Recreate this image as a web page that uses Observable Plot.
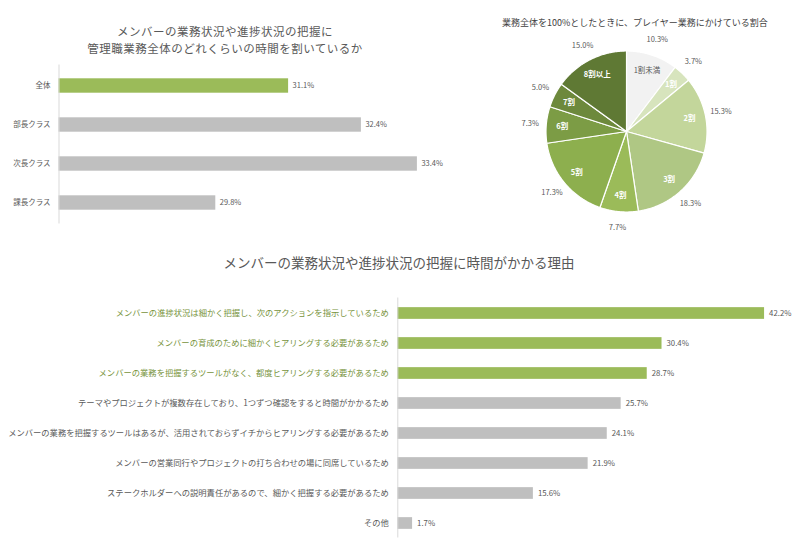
<!DOCTYPE html>
<html><head><meta charset="utf-8">
<script src="https://cdn.jsdelivr.net/npm/d3@7"></script>
<script src="https://cdn.jsdelivr.net/npm/@observablehq/plot@0.6"></script>
<style>
body{margin:0;background:#fff;font-family:"Noto Sans CJK JP","Noto Sans",sans-serif;}
#root{position:relative;width:800px;height:545px;overflow:hidden;background:#fff;}
.abs{position:absolute;}
.t{color:#595959;white-space:nowrap;text-align:center;}
.abs svg{display:block;max-width:none;overflow:visible;background:transparent;}
</style></head><body><div id="root"></div>
<script>
// ---------- data ----------
const roleLabels = ["全体", "部長クラス", "次長クラス", "課長クラス"];
const roleValues = [31.1, 32.4, 33.4, 29.8];
const roleAxisMin = 27;
const roleAxisMax = 34.5;

const shareLabels = ["1割未満", "1割", "2割", "3割", "4割", "5割", "6割", "7割", "8割以上"];
const shareValues = [10.3, 3.7, 15.3, 18.3, 7.7, 17.3, 7.3, 5.0, 15.0];

const reasonLabels = [
  "メンバーの進捗状況は細かく把握し、次のアクションを指示しているため",
  "メンバーの育成のために細かくヒアリングする必要があるため",
  "メンバーの業務を把握するツールがなく、都度ヒアリングする必要があるため",
  "テーマやプロジェクトが複数存在しており、1つずつ確認をすると時間がかかるため",
  "メンバーの業務を把握するツールはあるが、活用されておらずイチからヒアリングする必要があるため",
  "メンバーの営業同行やプロジェクトの打ち合わせの場に同席しているため",
  "ステークホルダーへの説明責任があるので、細かく把握する必要があるため",
  "その他"
];
const reasonValues = [42.2, 30.4, 28.7, 25.7, 24.1, 21.9, 15.6, 1.7];
const reasonEmphasis = [true, true, true, false, false, false, false, false];
const reasonAxisMax = 45;

// ---------- styles ----------
const FONT = '"Noto Sans CJK JP", "Noto Sans", sans-serif';
const GREEN = "#9BBB59";
const GRAY = "#BFBFBF";
const TEXT = "#595959";
const TEXT_GREEN = "#77933C";
const AXIS = "#D9D9D9";
const pieColors = ["#F2F2F2", "#D7E4BD", "#C3D69B", "#AFC784", "#9BBB59", "#8DAF4E", "#7C9C45", "#6D893C", "#5F7934"];

const root = document.getElementById("root");
function place(el, left, top) {
  const w = document.createElement("div");
  w.className = "abs";
  w.style.left = left + "px";
  w.style.top = top + "px";
  w.appendChild(el);
  root.appendChild(w);
  return w;
}
function title(html, left, top, width, size, lh, color, ls) {
  const d = document.createElement("div");
  d.className = "abs t";
  d.style.left = left + "px"; d.style.top = top + "px"; d.style.width = width + "px";
  d.style.fontSize = size + "px"; d.style.lineHeight = lh + "px";
  if (color) d.style.color = color;
  if (ls) d.style.letterSpacing = ls + "px";
  d.innerHTML = html;
  root.appendChild(d);
}

// ---------- chart 1 ----------
const roleData = roleLabels.map((l, i) => ({label: l, value: roleValues[i], overall: i === 0}));
const c1 = Plot.plot({
  width: 480, height: 170,
  marginLeft: 58.5, marginRight: 1.5, marginTop: 4.5, marginBottom: 6.5,
  x: {domain: [roleAxisMin, roleAxisMax], axis: null},
  y: {domain: roleLabels, axis: null, padding: 0},
  style: {fontFamily: FONT, background: "transparent", overflow: "visible"},
  marks: [
    Plot.barX(roleData.filter(d => d.overall), {x1: roleAxisMin, x2: "value", y: "label", fill: GREEN, insetTop: 12.3, insetBottom: 12.3}),
    Plot.barX(roleData.filter(d => !d.overall), {x1: roleAxisMin, x2: "value", y: "label", fill: GRAY, insetTop: 12.3, insetBottom: 12.3}),
    Plot.ruleX([roleAxisMin], {stroke: AXIS, strokeWidth: 1}),
    Plot.text(roleData, {x: "value", y: "label", text: d => d.value.toFixed(1) + "%", textAnchor: "start", dx: 4, fontSize: 7.5, fill: TEXT}),
    Plot.text(roleData, {y: "label", text: "label", frameAnchor: "left", textAnchor: "end", dx: -8.5, fontSize: 7.5, fill: TEXT})
  ]
});
place(c1, 0, 60);
title("メンバーの業務状況や進捗状況の把握に", 25, 25, 400, 11.5, 13, null, 0.5);
title("管理職業務全体のどれくらいの時間を割いているか", 25, 42, 400, 11.5, 13, null, 0.5);

// ---------- pie ----------
const R = 80.5, HALF = 106;
const arcs = d3.pie().sort(null).value(d => d)(shareValues);
const slicePts = [];
const pieLabels = [];
arcs.forEach((a, i) => {
  const k = shareLabels[i];
  slicePts.push({k, x: 0, y: 0});
  const n = Math.max(2, Math.ceil((a.endAngle - a.startAngle) / 0.01));
  for (let j = 0; j <= n; j++) {
    const t = a.startAngle + (a.endAngle - a.startAngle) * j / n;
    slicePts.push({k, x: R * Math.sin(t), y: R * Math.cos(t)});
  }
  const m = (a.startAngle + a.endAngle) / 2;
  pieLabels.push({k, v: shareValues[i], i,
    xi: 0.8 * R * Math.sin(m), yi: 0.8 * R * Math.cos(m),
    xo: 1.2 * R * Math.sin(m), yo: 1.2 * R * Math.cos(m)});
});
const c2 = Plot.plot({
  width: 2 * HALF, height: 2 * HALF,
  margin: 0,
  x: {domain: [-HALF, HALF], axis: null},
  y: {domain: [-HALF, HALF], axis: null},
  color: {domain: shareLabels, range: pieColors},
  style: {fontFamily: FONT, background: "transparent", overflow: "visible"},
  marks: [
    Plot.line(slicePts, {x: "x", y: "y", z: "k", fill: "k", stroke: "white", strokeWidth: 1.2, curve: "linear-closed"}),
    Plot.text(pieLabels.filter(d => d.i === 0), {x: "xi", y: "yi", text: "k", fill: TEXT, fontSize: 7.5}),
    Plot.text(pieLabels.filter(d => d.i !== 0), {x: "xi", y: "yi", text: "k", fill: "white", fontSize: 7.5, fontWeight: "bold"}),
    Plot.text(pieLabels, {x: "xo", y: "yo", text: d => d.v.toFixed(1) + "%", fill: TEXT, fontSize: 7.5})
  ]
});
place(c2, 626 - HALF, 131 - HALF);
title("業務全体を100%としたときに、プレイヤー業務にかけている割合", 502, 17, 250, 9, 12, "#404040");

// ---------- chart 3 ----------
const reasonData = reasonLabels.map((l, i) => ({label: l, value: reasonValues[i], em: reasonEmphasis[i]}));
const c3 = Plot.plot({
  width: 800, height: 250,
  marginLeft: 397.3, marginRight: 11.6, marginTop: 7.5, marginBottom: 2.5,
  x: {domain: [0, reasonAxisMax], axis: null},
  y: {domain: reasonLabels, axis: null, padding: 0},
  style: {fontFamily: FONT, background: "transparent", overflow: "visible"},
  marks: [
    Plot.barX(reasonData.filter(d => d.em), {x: "value", y: "label", fill: GREEN, insetTop: 9.15, insetBottom: 9.15}),
    Plot.barX(reasonData.filter(d => !d.em), {x: "value", y: "label", fill: GRAY, insetTop: 9.15, insetBottom: 9.15}),
    Plot.ruleX([0], {stroke: AXIS, strokeWidth: 1}),
    Plot.text(reasonData, {x: "value", y: "label", text: d => d.value.toFixed(1) + "%", textAnchor: "start", dx: 4.5, fontSize: 7.8, fill: TEXT}),
    Plot.text(reasonData.filter(d => d.em), {y: "label", text: "label", frameAnchor: "left", textAnchor: "end", dx: -9, fontSize: 8.3, fill: TEXT_GREEN}),
    Plot.text(reasonData.filter(d => !d.em), {y: "label", text: "label", frameAnchor: "left", textAnchor: "end", dx: -9, fontSize: 8.3, fill: TEXT})
  ]
});
place(c3, 0, 290);
title("メンバーの業務状況や進捗状況の把握に時間がかかる理由", 99, 253, 600, 13.5, 18);
</script></body></html>
